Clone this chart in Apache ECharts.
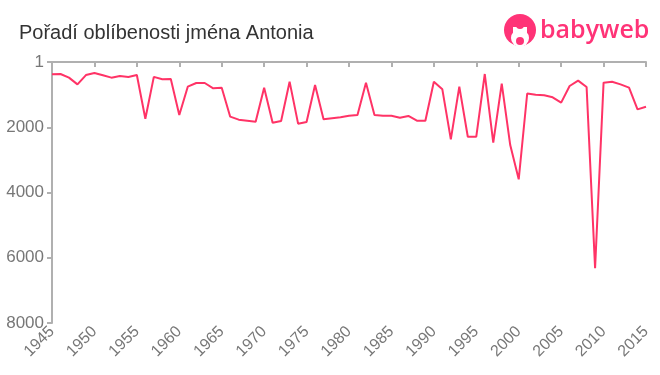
<!DOCTYPE html>
<html>
<head>
<meta charset="utf-8">
<script src="https://cdn.jsdelivr.net/npm/echarts@6/dist/echarts.min.js"></script>
<style>html,body{margin:0;padding:0;background:#fff}#c{width:660px;height:375px}</style>
</head>
<body>
<div id="c"></div>
<script>
var title = 'Pořadí oblíbenosti jména Antonia';
var years = [1945,1946,1947,1948,1949,1950,1951,1952,1953,1954,1955,1956,1957,1958,1959,1960,1961,1962,1963,1964,1965,1966,1967,1968,1969,1970,1971,1972,1973,1974,1975,1976,1977,1978,1979,1980,1981,1982,1983,1984,1985,1986,1987,1988,1989,1990,1991,1992,1993,1994,1995,1996,1997,1998,1999,2000,2001,2002,2003,2004,2005,2006,2007,2008,2009,2010,2011,2012,2013,2014,2015];
var ranks = [377,368,480,685,400,337,408,480,430,460,400,1740,455,531,521,1625,756,643,643,807,787,1676,1767,1798,1829,787,1860,1808,603,1890,1839,705,1757,1727,1696,1650,1625,633,1625,1645,1645,1706,1655,1800,1800,603,838,2370,756,2290,2290,368,2473,660,2545,3597,965,1001,1021,1082,1246,736,572,766,6324,633,603,685,787,1451,1370];
var yTicks = [0,2000,4000,6000,8000];
var yTickLabels = ['1','2000','4000','6000','8000'];

var chart = echarts.init(document.getElementById('c'));
var data = years.map(function(y,i){return [y, ranks[i]];});
chart.setOption({
  animation:false,
  title:{text:title,left:14,top:18,textStyle:{fontFamily:'Liberation Sans, Arial, sans-serif',fontSize:20,fontWeight:'normal',color:'#333'}},
  grid:{left:52,right:14,top:62,bottom:52},
  xAxis:{type:'value',min:1945,max:2015,interval:5,
    axisLine:{lineStyle:{color:'#b0b0b0',width:2}},
    axisTick:{show:true,length:5,lineStyle:{color:'#b0b0b0',width:2}},
    splitLine:{show:false},
    axisLabel:{rotate:45,color:'#777',fontSize:16,fontFamily:'Liberation Sans, Arial, sans-serif',margin:6,formatter:function(v){return String(v);}}
  },
  yAxis:{type:'value',inverse:true,min:0,max:8000,interval:2000,
    axisLine:{show:true,lineStyle:{color:'#b0b0b0',width:2}},
    axisTick:{show:true,length:5,lineStyle:{color:'#b0b0b0',width:2}},
    splitLine:{show:false},
    axisLabel:{color:'#777',fontSize:17,fontFamily:'Liberation Sans, Arial, sans-serif',margin:8,
      formatter:function(v){var i=yTicks.indexOf(v);return i>=0?yTickLabels[i]:'';}}
  },
  series:[{type:'line',data:data,symbol:'none',lineStyle:{color:'#ff3366',width:2}}],
  graphic:[
    {type:'circle',shape:{cx:520,cy:30,r:16},style:{fill:'#ff3377'}},
    {type:'circle',shape:{cx:520,cy:38,r:9},style:{fill:'#fff'}},
    {type:'rect',shape:{x:513,y:27,width:14,height:8},style:{fill:'#fff'}},
    {type:'circle',shape:{cx:520,cy:25,r:4},style:{fill:'#ff3377'}},
    {type:'circle',shape:{cx:520,cy:41,r:4},style:{fill:'#ff3377'}},
    {type:'text',left:540,top:18,style:{text:'babyweb',fill:'#ff3377',font:'600 25px "Open Sans", Roboto, sans-serif'}}
  ]
});
</script>
</body>
</html>
